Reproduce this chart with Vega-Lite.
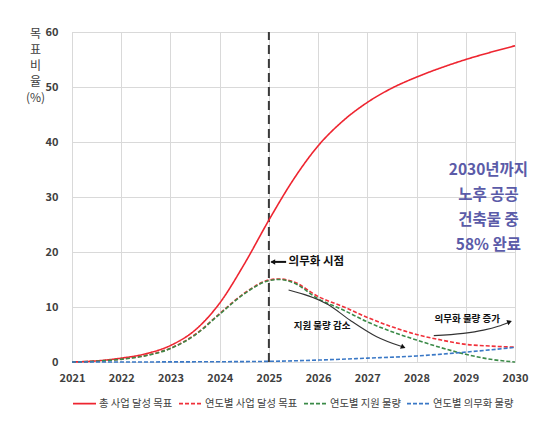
{
  "$schema": "https://vega.github.io/schema/vega-lite/v6.json",
  "width": 443,
  "height": 330,
  "autosize": {"type": "none"},
  "padding": {"left": 72, "top": 32, "right": 31, "bottom": 60},
  "background": "white",
  "config": {
    "font": "Noto Sans CJK KR",
    "view": {"stroke": "#d0d0d0"},
    "axis": {"gridColor": "#d9d9d9", "domain": false, "ticks": false, "labelColor": "#404040", "labelFontWeight": "bold", "labelFontSize": 11}
  },
  "datasets": {
    "curves": [
      {"series": "총 사업 달성 목표", "year": 2021, "value": 0},
      {"series": "총 사업 달성 목표", "year": 2021.5, "value": 0.2},
      {"series": "총 사업 달성 목표", "year": 2022, "value": 0.7},
      {"series": "총 사업 달성 목표", "year": 2022.5, "value": 1.5},
      {"series": "총 사업 달성 목표", "year": 2023, "value": 3.0},
      {"series": "총 사업 달성 목표", "year": 2023.5, "value": 5.8},
      {"series": "총 사업 달성 목표", "year": 2024, "value": 10.7},
      {"series": "총 사업 달성 목표", "year": 2024.5, "value": 17.8},
      {"series": "총 사업 달성 목표", "year": 2025, "value": 25.8},
      {"series": "총 사업 달성 목표", "year": 2025.5, "value": 33.2},
      {"series": "총 사업 달성 목표", "year": 2026, "value": 39.3},
      {"series": "총 사업 달성 목표", "year": 2026.5, "value": 43.8},
      {"series": "총 사업 달성 목표", "year": 2027, "value": 47.2},
      {"series": "총 사업 달성 목표", "year": 2027.5, "value": 49.8},
      {"series": "총 사업 달성 목표", "year": 2028, "value": 51.8},
      {"series": "총 사업 달성 목표", "year": 2028.5, "value": 53.5},
      {"series": "총 사업 달성 목표", "year": 2029, "value": 55.0},
      {"series": "총 사업 달성 목표", "year": 2029.5, "value": 56.3},
      {"series": "총 사업 달성 목표", "year": 2030, "value": 57.5},
      {"series": "연도별 사업 달성 목표", "year": 2021, "value": 0},
      {"series": "연도별 사업 달성 목표", "year": 2021.5, "value": 0.15},
      {"series": "연도별 사업 달성 목표", "year": 2022, "value": 0.55},
      {"series": "연도별 사업 달성 목표", "year": 2022.5, "value": 1.2},
      {"series": "연도별 사업 달성 목표", "year": 2023, "value": 2.5},
      {"series": "연도별 사업 달성 목표", "year": 2023.5, "value": 5.0},
      {"series": "연도별 사업 달성 목표", "year": 2024, "value": 8.8},
      {"series": "연도별 사업 달성 목표", "year": 2024.5, "value": 12.5},
      {"series": "연도별 사업 달성 목표", "year": 2025, "value": 14.9},
      {"series": "연도별 사업 달성 목표", "year": 2025.2, "value": 15.1},
      {"series": "연도별 사업 달성 목표", "year": 2025.5, "value": 14.6},
      {"series": "연도별 사업 달성 목표", "year": 2026, "value": 11.9},
      {"series": "연도별 사업 달성 목표", "year": 2026.5, "value": 10.1},
      {"series": "연도별 사업 달성 목표", "year": 2027, "value": 8.1},
      {"series": "연도별 사업 달성 목표", "year": 2027.5, "value": 6.4},
      {"series": "연도별 사업 달성 목표", "year": 2028, "value": 5.0},
      {"series": "연도별 사업 달성 목표", "year": 2028.5, "value": 4.0},
      {"series": "연도별 사업 달성 목표", "year": 2029, "value": 3.2},
      {"series": "연도별 사업 달성 목표", "year": 2029.5, "value": 2.9},
      {"series": "연도별 사업 달성 목표", "year": 2030, "value": 2.7},
      {"series": "연도별 지원 물량", "year": 2021, "value": 0},
      {"series": "연도별 지원 물량", "year": 2021.5, "value": 0.15},
      {"series": "연도별 지원 물량", "year": 2022, "value": 0.5},
      {"series": "연도별 지원 물량", "year": 2022.5, "value": 1.15},
      {"series": "연도별 지원 물량", "year": 2023, "value": 2.45},
      {"series": "연도별 지원 물량", "year": 2023.5, "value": 4.9},
      {"series": "연도별 지원 물량", "year": 2024, "value": 8.7},
      {"series": "연도별 지원 물량", "year": 2024.5, "value": 12.4},
      {"series": "연도별 지원 물량", "year": 2025, "value": 14.8},
      {"series": "연도별 지원 물량", "year": 2025.2, "value": 15.0},
      {"series": "연도별 지원 물량", "year": 2025.5, "value": 14.4},
      {"series": "연도별 지원 물량", "year": 2026, "value": 11.5},
      {"series": "연도별 지원 물량", "year": 2026.5, "value": 9.5},
      {"series": "연도별 지원 물량", "year": 2027, "value": 7.3},
      {"series": "연도별 지원 물량", "year": 2027.5, "value": 5.5},
      {"series": "연도별 지원 물량", "year": 2028, "value": 4.0},
      {"series": "연도별 지원 물량", "year": 2028.5, "value": 2.6},
      {"series": "연도별 지원 물량", "year": 2029, "value": 1.4},
      {"series": "연도별 지원 물량", "year": 2029.5, "value": 0.5},
      {"series": "연도별 지원 물량", "year": 2030, "value": 0.0},
      {"series": "연도별 의무화 물량", "year": 2021, "value": 0},
      {"series": "연도별 의무화 물량", "year": 2022, "value": 0},
      {"series": "연도별 의무화 물량", "year": 2023, "value": 0.02},
      {"series": "연도별 의무화 물량", "year": 2024, "value": 0.05},
      {"series": "연도별 의무화 물량", "year": 2025, "value": 0.12},
      {"series": "연도별 의무화 물량", "year": 2026, "value": 0.35},
      {"series": "연도별 의무화 물량", "year": 2027, "value": 0.7},
      {"series": "연도별 의무화 물량", "year": 2028, "value": 1.1},
      {"series": "연도별 의무화 물량", "year": 2029, "value": 1.8},
      {"series": "연도별 의무화 물량", "year": 2030, "value": 2.65}
    ],
    "arrows": [
      {"id": "b", "year": 2025.4, "value": 13.1},
      {"id": "b", "year": 2026.21, "value": 10.4},
      {"id": "b", "year": 2026.65, "value": 7.6},
      {"id": "b", "year": 2027.19, "value": 4.6},
      {"id": "b", "year": 2027.7, "value": 2.8},
      {"id": "c", "year": 2028.35, "value": 4.8},
      {"id": "c", "year": 2028.95, "value": 5.2},
      {"id": "c", "year": 2029.36, "value": 5.8},
      {"id": "c", "year": 2029.66, "value": 6.5},
      {"id": "c", "year": 2029.87, "value": 7.2}
    ],
    "heads": [
      {"year": 2025.08, "value": 18.2, "angle": 180},
      {"year": 2027.73, "value": 2.7, "angle": 22},
      {"year": 2029.89, "value": 7.3, "angle": 340}
    ]
  },
  "layer": [
    {
      "data": {"values": [{"year": 2025, "value": 0, "value2": 60}]},
      "mark": {"type": "rule", "color": "#3a3a3a", "strokeWidth": 2, "strokeDash": [9, 5]},
      "encoding": {
        "x": {"field": "year", "type": "quantitative"},
        "y": {"field": "value", "type": "quantitative"},
        "y2": {"field": "value2"}
      }
    },
    {
      "data": {"name": "curves"},
      "mark": {"type": "line", "interpolate": "monotone", "strokeWidth": 1.6},
      "encoding": {
        "x": {
          "field": "year", "type": "quantitative",
          "scale": {"domain": [2021, 2030], "nice": false, "zero": false},
          "axis": {"title": null, "values": [2021, 2022, 2023, 2024, 2025, 2026, 2027, 2028, 2029, 2030], "format": "d", "labelPadding": 10, "labelFlush": false}
        },
        "y": {
          "field": "value", "type": "quantitative",
          "scale": {"domain": [0, 60], "nice": false},
          "axis": {
            "title": ["목", "표", "비", "율", "(%)"],
            "titleAngle": 0, "titleX": -37, "titleY": -4, "titleAlign": "center", "titleBaseline": "top",
            "titleFontWeight": "normal", "titleFontSize": 12, "titleColor": "#404040", "titleLineHeight": 16,
            "values": [0, 10, 20, 30, 40, 50, 60], "labelPadding": 14, "labelFlush": false
          }
        },
        "color": {
          "field": "series", "type": "nominal",
          "scale": {"domain": ["총 사업 달성 목표", "연도별 사업 달성 목표", "연도별 지원 물량", "연도별 의무화 물량"], "range": ["#ee2530", "#f0303a", "#3b8a48", "#3a78c6"]},
          "legend": {"title": null, "orient": "bottom", "direction": "horizontal", "symbolType": "stroke", "symbolSize": 529, "symbolStrokeWidth": 1.6, "labelFontSize": 10.3, "labelColor": "#404040", "labelOffset": 2, "columnPadding": 2, "offset": 8}
        },
        "strokeDash": {
          "field": "series", "type": "nominal",
          "scale": {"domain": ["총 사업 달성 목표", "연도별 사업 달성 목표", "연도별 지원 물량", "연도별 의무화 물량"], "range": [[1, 0], [4, 2], [4, 2], [4, 2]]},
          "legend": {"title": null, "orient": "bottom", "direction": "horizontal", "symbolType": "stroke", "symbolSize": 529, "symbolStrokeWidth": 1.6, "labelFontSize": 10.3, "labelColor": "#404040", "labelOffset": 2, "columnPadding": 2, "offset": 8}
        }
      }
    },
    {
      "data": {"name": "arrows"},
      "mark": {"type": "line", "interpolate": "monotone", "color": "#333333", "strokeWidth": 1.1},
      "encoding": {
        "x": {"field": "year", "type": "quantitative"},
        "y": {"field": "value", "type": "quantitative"},
        "detail": {"field": "id"}
      }
    },
    {
      "data": {"values": [{"year": 2025.05, "value": 18.2, "year2": 2025.35}]},
      "mark": {"type": "rule", "color": "#111111", "strokeWidth": 2},
      "encoding": {
        "x": {"field": "year", "type": "quantitative"},
        "x2": {"field": "year2"},
        "y": {"field": "value", "type": "quantitative"}
      }
    },
    {
      "data": {"name": "heads"},
      "mark": {"type": "point", "shape": "triangle-right", "filled": true, "color": "#111111", "size": 30, "opacity": 1},
      "encoding": {
        "x": {"field": "year", "type": "quantitative"},
        "y": {"field": "value", "type": "quantitative"},
        "angle": {"field": "angle", "type": "quantitative", "scale": null}
      }
    },
    {
      "data": {"values": [{"year": 2025.4, "value": 18.1, "label": "의무화 시점"}]},
      "mark": {"type": "text", "align": "left", "baseline": "middle", "fontSize": 11.5, "fontWeight": "bold", "color": "#111111"},
      "encoding": {
        "x": {"field": "year", "type": "quantitative"},
        "y": {"field": "value", "type": "quantitative"},
        "text": {"field": "label"}
      }
    },
    {
      "data": {"values": [
        {"year": 2026.08, "value": 6.5, "label": "지원 물량 감소"},
        {"year": 2029.03, "value": 7.9, "label": "의무화 물량 증가"}
      ]},
      "mark": {"type": "text", "align": "center", "baseline": "middle", "fontSize": 9.5, "fontWeight": "bold", "color": "#111111"},
      "encoding": {
        "x": {"field": "year", "type": "quantitative"},
        "y": {"field": "value", "type": "quantitative"},
        "text": {"field": "label"}
      }
    },
    {
      "data": {"values": [{"year": 2029.46, "value": 35.0, "label": "2030년까지\n노후 공공\n건축물 중\n58% 완료"}]},
      "mark": {"type": "text", "align": "center", "baseline": "middle", "lineBreak": "\n", "lineHeight": 25, "fontSize": 15.5, "fontWeight": "bold", "color": "#5b5ba8"},
      "encoding": {
        "x": {"field": "year", "type": "quantitative"},
        "y": {"field": "value", "type": "quantitative"},
        "text": {"field": "label"}
      }
    }
  ]
}
